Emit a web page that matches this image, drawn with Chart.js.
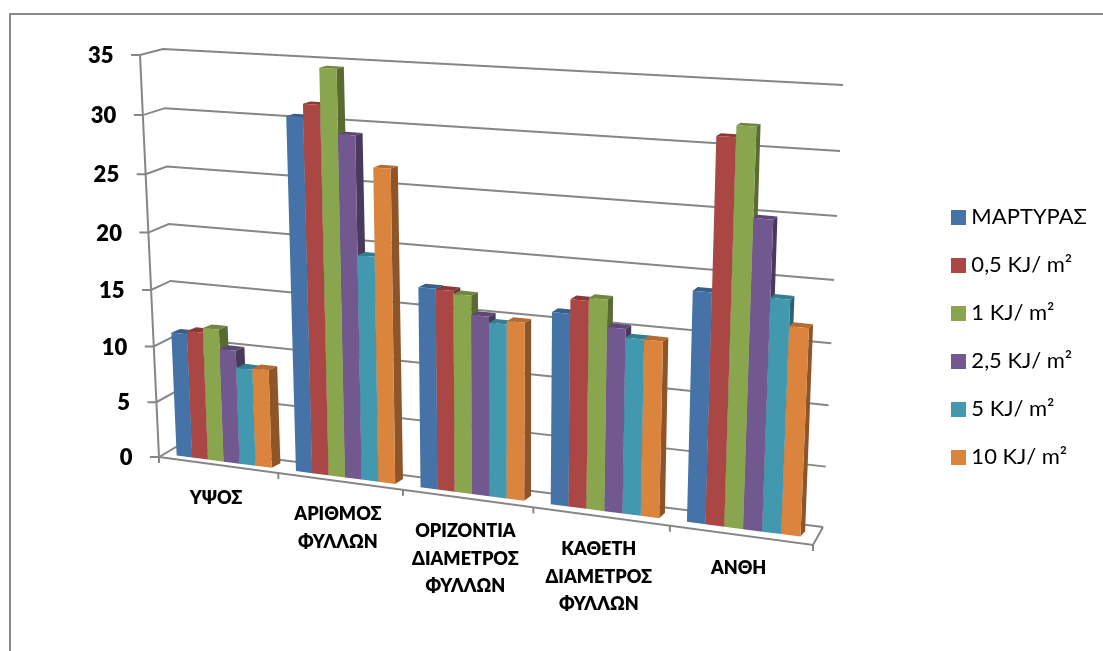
<!DOCTYPE html>
<html>
<head>
<meta charset="utf-8">
<title>Chart</title>
<script src="https://cdn.jsdelivr.net/npm/chart.js@4/dist/chart.umd.js"></script>
<style>
    html, body { margin: 0; padding: 0; background: #fff; overflow: hidden; }
    #wrap { position: relative; width: 1103px; height: 651px; }
    #frame { position: absolute; left: 9px; top: 13px; right: 0; bottom: 0; border-left: 2px solid #8a8a8a; border-top: 2px solid #8a8a8a; }
    canvas { position: absolute; left: 0; top: 0; }
</style>
</head>
<body>
<div id="wrap">
    <div id="frame"></div>
    <canvas id="chart" width="1103" height="651"></canvas>
</div>
<script>
const categories = ['ΥΨΟΣ', ['ΑΡΙΘΜΟΣ', 'ΦΥΛΛΩΝ'], ['ΟΡΙΖΟΝΤΙΑ', 'ΔΙΑΜΕΤΡΟΣ', 'ΦΥΛΛΩΝ'], ['ΚΑΘΕΤΗ', 'ΔΙΑΜΕΤΡΟΣ', 'ΦΥΛΛΩΝ'], 'ΑΝΘΗ'];
const seriesNames = ['ΜΑΡΤΥΡΑΣ', '0,5 KJ/ m²', '1 KJ/ m²', '2,5 KJ/ m²', '5 KJ/ m²', '10 KJ/ m²'];
const control = [11.1, 30.5, 17.2, 16.2, 19.0];
const dose05 = [11.4, 31.6, 17.15, 17.4, 31.2];
const dose1 = [11.8, 34.6, 16.9, 17.65, 32.1];
const dose25 = [10.1, 29.3, 15.3, 15.4, 25.1];
const dose5 = [8.6, 19.4, 14.8, 14.7, 19.0];
const dose10 = [8.7, 26.8, 15.1, 14.7, 16.9];
const seriesValues = [control, dose05, dose1, dose25, dose5, dose10];
const seriesColors = ['#4573a7', '#aa4643', '#89a54e', '#71588f', '#4198af', '#db843d'];
const axisMax = 35;
const axisStep = 5;

const gridColor = '#868686';
const labelFont = 'Lato, "Open Sans", sans-serif';

// corners of each plane on the canvas: bottom-left, bottom-right, top-right, top-left
const backWall = [[176, 447], [823, 527], [843, 85], [163, 49]];
const frontEdge = [[159, 457], [813, 545], [832, 97], [140, 55]];
const barFront = [[165, 454], [815, 538.5], [834, 92.5], [147, 53]];
const barBack = [[174.5, 449.5], [819.5, 533], [837.5, 90], [155.5, 51]];

// maps the unit square onto a four sided plane
function planeMap(q) {
    const [[x0, y0], [x1, y1], [x2, y2], [x3, y3]] = q;
    const dx1 = x1 - x2, dx2 = x3 - x2, sx = x0 - x1 + x2 - x3;
    const dy1 = y1 - y2, dy2 = y3 - y2, sy = y0 - y1 + y2 - y3;
    const den = dx1 * dy2 - dx2 * dy1;
    const g = (sx * dy2 - dx2 * sy) / den;
    const h = (dx1 * sy - sx * dy1) / den;
    const a = x1 - x0 + g * x1, b = x3 - x0 + h * x3;
    const d = y1 - y0 + g * y1, e = y3 - y0 + h * y3;
    return (u, v) => {
        const w = g * u + h * v + 1;
        return [(a * u + b * v + x0) / w, (d * u + e * v + y0) / w];
    };
}

const toBack = planeMap(backWall);
const toFront = planeMap(frontEdge);
const toBarFront = planeMap(barFront);
const toBarBack = planeMap(barBack);

function shade(hex, k) {
    const n = parseInt(hex.slice(1), 16);
    const c = [n >> 16, (n >> 8) & 255, n & 255].map(p => Math.round(p * k));
    return `rgb(${c[0]}, ${c[1]}, ${c[2]})`;
}

function line(ctx, pts) {
    ctx.beginPath();
    pts.forEach((p, i) => i ? ctx.lineTo(p[0], p[1]) : ctx.moveTo(p[0], p[1]));
    ctx.stroke();
}

function face(ctx, pts, color) {
    ctx.fillStyle = color;
    ctx.beginPath();
    pts.forEach((p, i) => i ? ctx.lineTo(p[0], p[1]) : ctx.moveTo(p[0], p[1]));
    ctx.closePath();
    ctx.fill();
}

// legend swatch as a small canvas, so the text can sit closer to it
function swatch(color) {
    const c = document.createElement('canvas');
    c.width = 15;
    c.height = 15;
    const g = c.getContext('2d');
    g.fillStyle = color;
    g.fillRect(0, 0, 15, 15);
    return c;
}

// 3D box chart: the walls, floor and bars are projected from the scale pixels
const box3d = {
    id: 'box3d',
    beforeDatasetsDraw(chart) {
        const { ctx, chartArea: area, scales } = chart;
        const yScale = scales.y;
        const xScale = scales.x;
        const un = px => (px - area.left) / (area.right - area.left);
        const vn = py => (area.bottom - py) / (area.bottom - area.top);
        const count = categories.length;

        ctx.save();
        ctx.strokeStyle = gridColor;
        ctx.lineWidth = 2;
        ctx.lineCap = 'butt';

        // gridlines along the left side and back wall, with tick labels
        ctx.fillStyle = '#000';
        ctx.font = '800 22px ' + labelFont;
        ctx.textAlign = 'right';
        ctx.textBaseline = 'middle';
        yScale.ticks.forEach(tick => {
            const v = vn(yScale.getPixelForValue(tick.value));
            const f = toFront(0, v);
            const b = toBack(0, v);
            const r = toBack(1, v);
            line(ctx, [[f[0] - 9, f[1]], f, b, r]);
            ctx.fillText(tick.label, f[0] - 26.5, f[1] + 1);
        });

        // left axis and floor outline
        line(ctx, [toFront(0, 0), toFront(0, 1)]);
        line(ctx, [toFront(0, 0), toFront(1, 0), toBack(1, 0)]);
        for (let i = 0; i <= count; i++) {
            const p = toFront(i / count, 0);
            line(ctx, [p, [p[0], p[1] + 6]]);
        }

        // bars, left to right so each one covers the side of the previous one
        const metas = chart.getSortedVisibleDatasetMetas();
        for (let c = 0; c < count; c++) {
            metas.forEach(meta => {
                const bar = meta.data[c];
                const color = chart.data.datasets[meta.index].backgroundColor;
                const u0 = un(bar.x - bar.width / 2);
                const u1 = un(bar.x + bar.width / 2);
                const v0 = vn(bar.base);
                const v1 = vn(bar.y);
                face(ctx, [toBarFront(u0, v1), toBarFront(u1, v1), toBarBack(u1, v1), toBarBack(u0, v1)], shade(color, 0.82));
                face(ctx, [toBarFront(u1, v0), toBarBack(u1, v0), toBarBack(u1, v1), toBarFront(u1, v1)], shade(color, 0.65));
                face(ctx, [toBarFront(u0, v0), toBarFront(u1, v0), toBarFront(u1, v1), toBarFront(u0, v1)], color);
            });
        }

        // category labels under the floor edge
        ctx.fillStyle = '#000';
        ctx.font = '800 18px ' + labelFont;
        ctx.textAlign = 'center';
        categories.forEach((name, i) => {
            const p = toFront(un(xScale.getPixelForValue(i)), 0);
            [].concat(name).forEach((text, n) => ctx.fillText(text, p[0] - 2, p[1] + 33 + n * 27.5));
        });
        ctx.restore();
        return false;
    }
};

new Chart(document.getElementById('chart'), {
    type: 'bar',
    data: {
        labels: categories,
        datasets: seriesNames.map((name, i) => ({
            label: name,
            data: seriesValues[i],
            backgroundColor: seriesColors[i],
        })),
    },
    plugins: [box3d],
    options: {
        responsive: false,
        animation: false,
        events: [],
        datasets: { bar: { categoryPercentage: 0.8, barPercentage: 1 } },
        layout: { padding: { left: 10, right: 6, top: 33, bottom: 10 } },
        scales: {
            x: { display: false },
            y: { display: false, min: 0, max: axisMax, ticks: { stepSize: axisStep } },
        },
        plugins: {
            tooltip: { enabled: false },
            legend: {
                position: 'right',
                labels: {
                    usePointStyle: true,
                    pointStyleWidth: 3,
                    boxHeight: 15,
                    padding: 26,
                    color: '#000',
                    font: { family: labelFont, size: 22 },
                    generateLabels: () => seriesNames.map((name, i) => ({
                        text: name,
                        datasetIndex: i,
                        pointStyle: swatch(seriesColors[i]),
                        fontColor: '#000',
                        lineWidth: 0,
                    })),
                },
            },
        },
    },
});
</script>
</body>
</html>
